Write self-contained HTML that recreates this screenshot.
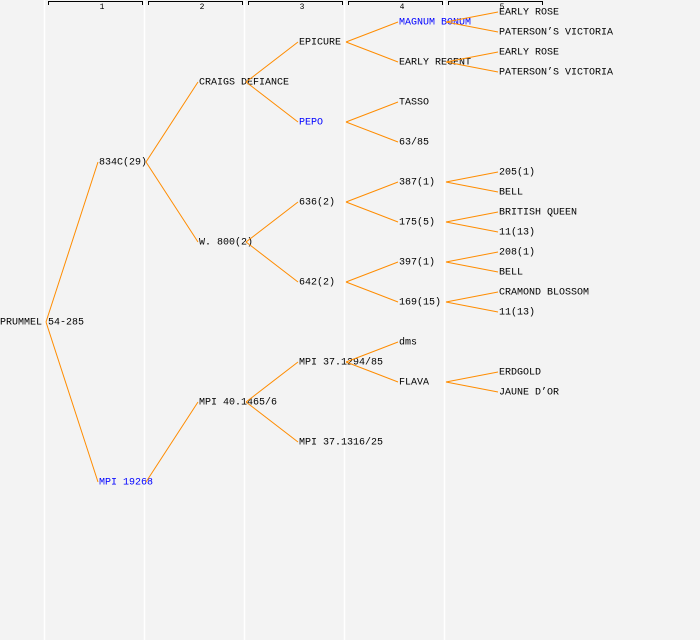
<!DOCTYPE html>
<html><head><style>
html,body{margin:0;padding:0;background:#f3f3f3;}
svg{display:block;}
text{font-family:"Liberation Mono",monospace;font-size:10px;fill:#000;}
.b{fill:#0000ff;}
</style></head><body>
<svg width="700" height="640" viewBox="0 0 700 640" xmlns="http://www.w3.org/2000/svg">
<rect width="700" height="640" fill="#f3f3f3"/>
<g stroke="#ffffff" stroke-width="1.5">
<line x1="44.5" y1="0" x2="44.5" y2="640"/>
<line x1="144.5" y1="0" x2="144.5" y2="640"/>
<line x1="244.5" y1="0" x2="244.5" y2="640"/>
<line x1="344.5" y1="0" x2="344.5" y2="640"/>
<line x1="444.5" y1="0" x2="444.5" y2="640"/>
</g>
<g stroke="#000" stroke-width="1" fill="none">
<path d="M48.5 5V1.5H142.5V5"/>
<path d="M148.5 5V1.5H242.5V5"/>
<path d="M248.5 5V1.5H342.5V5"/>
<path d="M348.5 5V1.5H442.5V5"/>
<path d="M448.5 5V1.5H542.5V5"/>
</g>
<g text-anchor="middle">
<text x="102" y="9" style="font-size:8px">1</text>
<text x="202" y="9" style="font-size:8px">2</text>
<text x="302" y="9" style="font-size:8px">3</text>
<text x="402" y="9" style="font-size:8px">4</text>
<text x="502" y="9" style="font-size:8px">5</text>
</g>
<g dominant-baseline="central" transform="translate(0,1)">
<text x="0" y="322">PRUMMEL 54-285</text>
<text x="99" y="162">834C(29)</text>
<text x="99" y="482" class="b">MPI 19268</text>
<text x="199" y="82">CRAIGS DEFIANCE</text>
<text x="199" y="242">W. 800(2)</text>
<text x="199" y="402">MPI 40.1465/6</text>
<text x="299" y="42">EPICURE</text>
<text x="299" y="122" class="b">PEPO</text>
<text x="299" y="202">636(2)</text>
<text x="299" y="282">642(2)</text>
<text x="299" y="362">MPI 37.1294/85</text>
<text x="299" y="442">MPI 37.1316/25</text>
<text x="399" y="22" class="b">MAGNUM BONUM</text>
<text x="399" y="62">EARLY REGENT</text>
<text x="399" y="102">TASSO</text>
<text x="399" y="142">63/85</text>
<text x="399" y="182">387(1)</text>
<text x="399" y="222">175(5)</text>
<text x="399" y="262">397(1)</text>
<text x="399" y="302">169(15)</text>
<text x="399" y="342">dms</text>
<text x="399" y="382">FLAVA</text>
<text x="499" y="12">EARLY ROSE</text>
<text x="499" y="32">PATERSON’S VICTORIA</text>
<text x="499" y="52">EARLY ROSE</text>
<text x="499" y="72">PATERSON’S VICTORIA</text>
<text x="499" y="172">205(1)</text>
<text x="499" y="192">BELL</text>
<text x="499" y="212">BRITISH QUEEN</text>
<text x="499" y="232">11(13)</text>
<text x="499" y="252">208(1)</text>
<text x="499" y="272">BELL</text>
<text x="499" y="292">CRAMOND BLOSSOM</text>
<text x="499" y="312">11(13)</text>
<text x="499" y="372">ERDGOLD</text>
<text x="499" y="392">JAUNE D’OR</text>
</g>
<g stroke="#ff8c00" stroke-width="1" fill="none">
<path d="M46 322L98 162M46 322L98 482"/>
<path d="M146 162L198 82M146 162L198 242M146 482L198 402"/>
<path d="M246 82L298 42M246 82L298 122M246 242L298 202M246 242L298 282M246 402L298 362M246 402L298 442"/>
<path d="M346 42L398 22M346 42L398 62M346 122L398 102M346 122L398 142M346 202L398 182M346 202L398 222M346 282L398 262M346 282L398 302M346 362L398 342M346 362L398 382"/>
<path d="M446 22L498 12M446 22L498 32M446 62L498 52M446 62L498 72M446 182L498 172M446 182L498 192M446 222L498 212M446 222L498 232M446 262L498 252M446 262L498 272M446 302L498 292M446 302L498 312M446 382L498 372M446 382L498 392"/>
</g>
</svg>
</body></html>
